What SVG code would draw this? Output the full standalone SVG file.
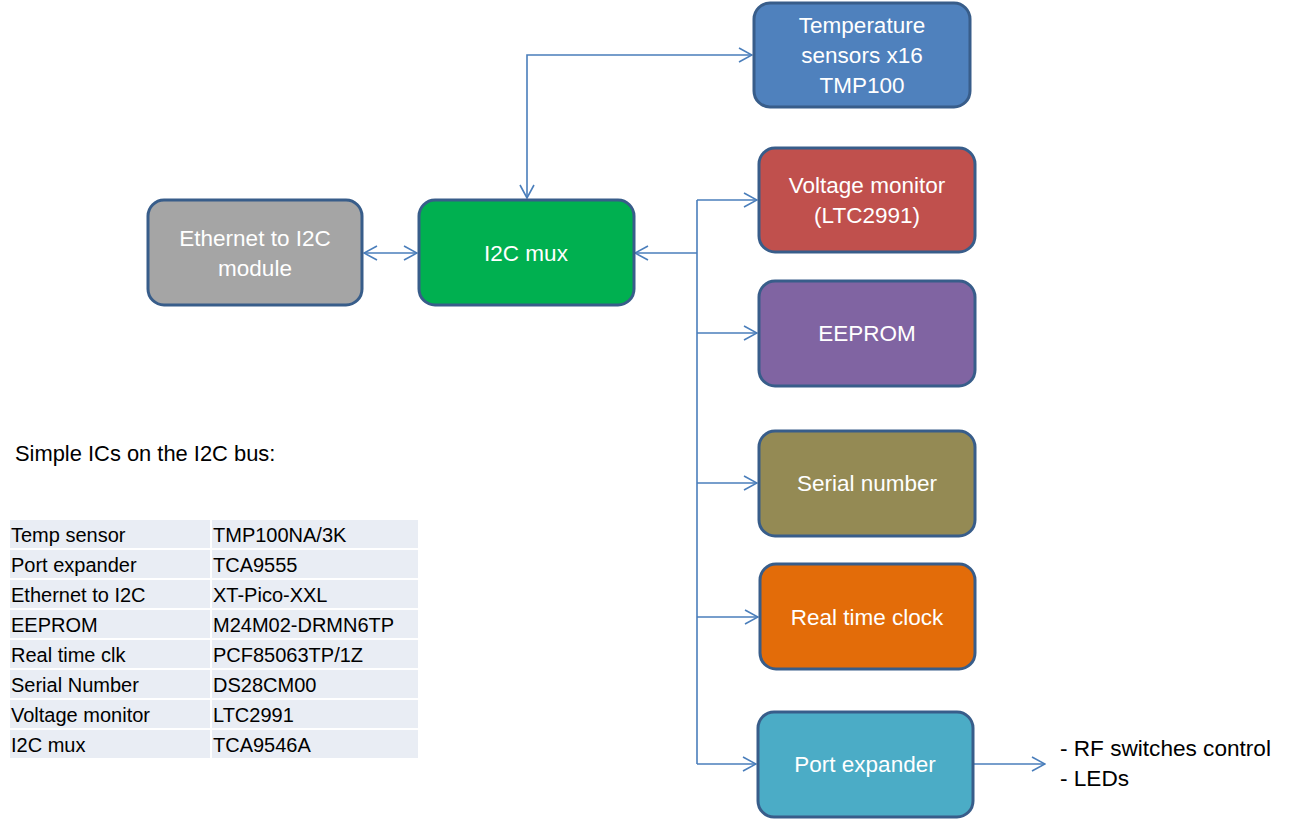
<svg xmlns="http://www.w3.org/2000/svg" width="1289" height="819" viewBox="0 0 1289 819">
<style>
.node{stroke:#385D8A;stroke-width:3}
.nt{font-family:"Liberation Sans",Arial,sans-serif;font-size:22.5px;fill:#fff;text-anchor:middle}
.con{fill:none;stroke:#4A7EBB;stroke-width:1.6}
.tbl{fill:#E9EDF4}
.tt{font-family:"Liberation Sans",Arial,sans-serif;font-size:20px;fill:#000}
.lbl{font-family:"Liberation Sans",Arial,sans-serif;font-size:22.6px;fill:#000}
.hd{font-family:"Liberation Sans",Arial,sans-serif;font-size:21.9px;fill:#000}
</style>
<defs>
<marker id="arr" markerUnits="userSpaceOnUse" viewBox="0 0 15 16" refX="14" refY="8" markerWidth="15" markerHeight="16" orient="auto-start-reverse">
<path d="M1,1 L14,8 L1,15" fill="none" stroke="#4A7EBB" stroke-width="1.6"/>
</marker>
</defs>
<rect width="1289" height="819" fill="#fff"/>

<g id="connectors">
<path class="con" d="M364,253 H417" marker-start="url(#arr)" marker-end="url(#arr)"/>
<path class="con" d="M527,198 V55 H752" marker-start="url(#arr)" marker-end="url(#arr)"/>
<path class="con" d="M697,253 H635" marker-end="url(#arr)"/>
<path class="con" d="M697,200 V764"/>
<path class="con" d="M697,200 H757" marker-end="url(#arr)"/>
<path class="con" d="M697,333 H757" marker-end="url(#arr)"/>
<path class="con" d="M697,483 H757" marker-end="url(#arr)"/>
<path class="con" d="M697,617 H758" marker-end="url(#arr)"/>
<path class="con" d="M697,764 H756" marker-end="url(#arr)"/>
<path class="con" d="M974,764 H1045" marker-end="url(#arr)"/>
</g>

<g id="ethernet">
<rect class="node" x="148" y="200" width="214" height="105" rx="16" fill="#A5A5A5"/>
<text class="nt" x="255" y="246">Ethernet to I2C</text>
<text class="nt" x="255" y="276">module</text>
</g>
<g id="i2cmux">
<rect class="node" x="419" y="200" width="215" height="105" rx="16" fill="#00B050"/>
<text class="nt" x="526" y="261">I2C mux</text>
</g>
<g id="temperature">
<rect class="node" x="754" y="3" width="216" height="104" rx="16" fill="#4F81BD"/>
<text class="nt" x="862" y="33">Temperature</text>
<text class="nt" x="862" y="63">sensors x16</text>
<text class="nt" x="862" y="93">TMP100</text>
</g>
<g id="voltage">
<rect class="node" x="759" y="148" width="216" height="104" rx="16" fill="#C0504D"/>
<text class="nt" x="867" y="193">Voltage monitor</text>
<text class="nt" x="867" y="223">(LTC2991)</text>
</g>
<g id="eeprom">
<rect class="node" x="759" y="281" width="216" height="105" rx="16" fill="#8064A2"/>
<text class="nt" x="867" y="341">EEPROM</text>
</g>
<g id="serial">
<rect class="node" x="759" y="431" width="216" height="105" rx="16" fill="#948A54"/>
<text class="nt" x="867" y="491">Serial number</text>
</g>
<g id="rtc">
<rect class="node" x="760" y="564" width="215" height="105" rx="16" fill="#E36C09"/>
<text class="nt" x="867" y="625">Real time clock</text>
</g>
<g id="portexp">
<rect class="node" x="758" y="712" width="215" height="105" rx="16" fill="#4BACC6"/>
<text class="nt" x="865" y="772">Port expander</text>
</g>

<g id="outputs">
<text class="lbl" x="1060" y="756">- RF switches control</text>
<text class="lbl" x="1060" y="786">- LEDs</text>
</g>

<g id="table">
<text class="hd" x="15" y="461">Simple ICs on the I2C bus:</text>
<rect class="tbl" x="10" y="520" width="200" height="28"/><rect class="tbl" x="212" y="520" width="206" height="28"/>
<rect class="tbl" x="10" y="550" width="200" height="28"/><rect class="tbl" x="212" y="550" width="206" height="28"/>
<rect class="tbl" x="10" y="580" width="200" height="28"/><rect class="tbl" x="212" y="580" width="206" height="28"/>
<rect class="tbl" x="10" y="610" width="200" height="28"/><rect class="tbl" x="212" y="610" width="206" height="28"/>
<rect class="tbl" x="10" y="640" width="200" height="28"/><rect class="tbl" x="212" y="640" width="206" height="28"/>
<rect class="tbl" x="10" y="670" width="200" height="28"/><rect class="tbl" x="212" y="670" width="206" height="28"/>
<rect class="tbl" x="10" y="700" width="200" height="28"/><rect class="tbl" x="212" y="700" width="206" height="28"/>
<rect class="tbl" x="10" y="730" width="200" height="28"/><rect class="tbl" x="212" y="730" width="206" height="28"/>
<text class="tt" x="11" y="542">Temp sensor</text><text class="tt" x="213" y="542">TMP100NA/3K</text>
<text class="tt" x="11" y="572">Port expander</text><text class="tt" x="213" y="572">TCA9555</text>
<text class="tt" x="11" y="602">Ethernet to I2C</text><text class="tt" x="213" y="602">XT-Pico-XXL</text>
<text class="tt" x="11" y="632">EEPROM</text><text class="tt" x="213" y="632">M24M02-DRMN6TP</text>
<text class="tt" x="11" y="662">Real time clk</text><text class="tt" x="213" y="662">PCF85063TP/1Z</text>
<text class="tt" x="11" y="692">Serial Number</text><text class="tt" x="213" y="692">DS28CM00</text>
<text class="tt" x="11" y="722">Voltage monitor</text><text class="tt" x="213" y="722">LTC2991</text>
<text class="tt" x="11" y="752">I2C mux</text><text class="tt" x="213" y="752">TCA9546A</text>
</g>
</svg>
